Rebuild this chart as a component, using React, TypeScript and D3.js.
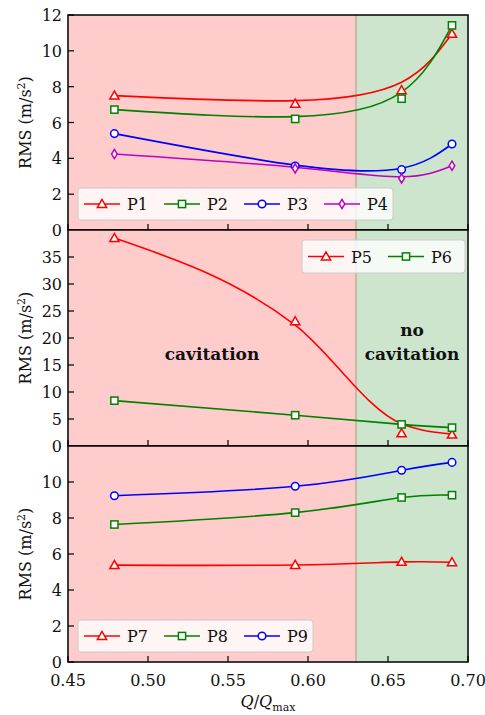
import React from "react";
import * as d3 from "d3";

// ---- data ----
const flowRatio = [0.479, 0.592, 0.6585, 0.69];
const xTicks = [0.45, 0.5, 0.55, 0.6, 0.65, 0.7];
const cavitationLimit = 0.63;

// Panel 1 (markers = measured, curve = smoothed line)
const p1 = [7.5, 7.05, 7.8, 10.95];
const p1Curve = [7.5, 7.22, 8.25, 10.95];
const p2 = [6.72, 6.2, 7.33, 11.42];
const p2Curve = [6.72, 6.33, 7.7, 11.42];
const p3 = [5.38, 3.57, 3.37, 4.8];
const p3Curve = [5.38, 3.62, 3.45, 4.8];
const p4 = [4.24, 3.44, 2.88, 3.59];
const p4Curve = [4.24, 3.5, 2.97, 3.59];
// Panel 2
const p5 = [38.5, 23.1, 2.35, 2.1];
const p5Curve = [38.5, 22.4, 4.1, 2.2];
const p6 = [8.4, 5.7, 4.0, 3.4];
// Panel 3
const p7 = [5.38, 5.39, 5.56, 5.54];
const p8 = [7.64, 8.3, 9.14, 9.27];
const p9 = [9.24, 9.76, 10.65, 11.09];

const yTicks1 = [0, 2, 4, 6, 8, 10, 12];
const yTicks2 = [0, 5, 10, 15, 20, 25, 30, 35];
const yTicks3 = [0, 2, 4, 6, 8, 10];

type Marker = "tri" | "sq" | "circ" | "dia";
interface Series {
  name: string;
  values: number[];
  curve: number[];
  color: string;
  marker: Marker;
  monotone?: boolean;
}

const RED = "#ff0000";
const GREEN = "#008000";
const BLUE = "#0000ff";
const MAG = "#bf00bf";

const panels: {
  top: number;
  bottom: number;
  domain: [number, number];
  ticks: number[];
  series: Series[];
  legend: { x: number; y: number; w: number; h: number };
}[] = [
  {
    top: 15,
    bottom: 230,
    domain: [0, 12],
    ticks: yTicks1,
    series: [
      { name: "P1", values: p1, curve: p1Curve, color: RED, marker: "tri" },
      { name: "P2", values: p2, curve: p2Curve, color: GREEN, marker: "sq" },
      { name: "P3", values: p3, curve: p3Curve, color: BLUE, marker: "circ" },
      { name: "P4", values: p4, curve: p4Curve, color: MAG, marker: "dia" },
    ],
    legend: { x: 78, y: 188, w: 315, h: 32 },
  },
  {
    top: 230,
    bottom: 446,
    domain: [0, 40],
    ticks: yTicks2,
    series: [
      { name: "P5", values: p5, curve: p5Curve, color: RED, marker: "tri", monotone: true },
      { name: "P6", values: p6, curve: p6, color: GREEN, marker: "sq" },
    ],
    legend: { x: 302, y: 240, w: 163, h: 33 },
  },
  {
    top: 446,
    bottom: 662,
    domain: [0, 12],
    ticks: yTicks3,
    series: [
      { name: "P7", values: p7, curve: p7, color: RED, marker: "tri" },
      { name: "P8", values: p8, curve: p8, color: GREEN, marker: "sq" },
      { name: "P9", values: p9, curve: p9, color: BLUE, marker: "circ" },
    ],
    legend: { x: 78, y: 620, w: 235, h: 32 },
  },
];

const LEFT = 68;
const RIGHT = 468;
const FONT = '"DejaVu Serif", "Liberation Serif", serif';

function MarkerShape({ type, x, y, color }: { type: Marker; x: number; y: number; color: string }) {
  const sw = 1.5;
  if (type === "tri") {
    const s = 4.6;
    const pts = `${x},${y - s} ${x - s},${y + s * 0.75} ${x + s},${y + s * 0.75}`;
    return <polygon points={pts} fill="white" stroke={color} strokeWidth={sw} />;
  }
  if (type === "sq") {
    const s = 3.6;
    return <rect x={x - s} y={y - s} width={2 * s} height={2 * s} fill="white" stroke={color} strokeWidth={sw} />;
  }
  if (type === "circ") {
    return <circle cx={x} cy={y} r={3.8} fill="white" stroke={color} strokeWidth={sw} />;
  }
  const w = 2.8;
  const h = 4.6;
  const pts = `${x},${y - h} ${x + w},${y} ${x},${y + h} ${x - w},${y}`;
  return <polygon points={pts} fill="white" stroke={color} strokeWidth={sw} />;
}

const FS = 16;

export default function App() {
  const x = d3.scaleLinear().domain([0.45, 0.7]).range([LEFT, RIGHT]);

  return (
    <svg
      width={485}
      height={715}
      style={{ position: "absolute", left: 0, top: 0, background: "white", fontFamily: FONT }}
    >
      {panels.map((p, pi) => {
        const y = d3.scaleLinear().domain(p.domain).range([p.bottom, p.top]);
        const mk = (mono?: boolean) =>
          d3
            .line<number>()
            .x((_, i) => x(flowRatio[i]))
            .y((d) => y(d))
            .curve(mono ? d3.curveMonotoneX : d3.curveNatural);
        const entryW = 80;
        return (
          <g key={pi}>
            <rect x={LEFT} y={p.top} width={x(cavitationLimit) - LEFT} height={p.bottom - p.top} fill="#ffcccc" />
            <rect
              x={x(cavitationLimit)}
              y={p.top}
              width={RIGHT - x(cavitationLimit)}
              height={p.bottom - p.top}
              fill="#cce5cc"
            />
            <line
              x1={x(cavitationLimit)}
              x2={x(cavitationLimit)}
              y1={p.top}
              y2={p.bottom}
              stroke="#c2ad96"
              strokeWidth={1.5}
            />
            {p.series.map((s) => (
              <path key={s.name + "l"} d={mk(s.monotone)(s.curve) || ""} fill="none" stroke={s.color} strokeWidth={1.6} />
            ))}
            {p.series.map((s) =>
              s.values.map((v, i) => (
                <MarkerShape key={s.name + i} type={s.marker} x={x(flowRatio[i])} y={y(v)} color={s.color} />
              ))
            )}
            {/* legend */}
            <rect
              x={p.legend.x}
              y={p.legend.y}
              width={p.legend.w}
              height={p.legend.h}
              rx={3}
              fill="white"
              fillOpacity={0.8}
              stroke="#cccccc"
              strokeWidth={1}
            />
            {p.series.map((s, i) => {
              const lx = p.legend.x + 6 + i * entryW;
              const ly = p.legend.y + p.legend.h / 2;
              return (
                <g key={s.name + "leg"}>
                  <line x1={lx} x2={lx + 36} y1={ly} y2={ly} stroke={s.color} strokeWidth={1.6} />
                  <MarkerShape type={s.marker} x={lx + 18} y={ly} color={s.color} />
                  <text x={lx + 43} y={ly + 6} fontSize={FS} fill="#111">
                    {s.name}
                  </text>
                </g>
              );
            })}
            {/* y ticks */}
            {p.ticks.map((t) => (
              <g key={"yt" + t}>
                <line x1={LEFT} x2={LEFT + 6} y1={y(t)} y2={y(t)} stroke="black" strokeWidth={1.2} />
                <text x={LEFT - 6} y={y(t) + 6} textAnchor="end" fontSize={FS} fill="#111">
                  {t}
                </text>
              </g>
            ))}
            {/* x ticks (inward) */}
            {xTicks.map((t) => (
              <line key={"xt" + t} x1={x(t)} x2={x(t)} y1={p.bottom} y2={p.bottom - 6} stroke="black" strokeWidth={1.2} />
            ))}
            {/* frame */}
            <rect
              x={LEFT}
              y={p.top}
              width={RIGHT - LEFT}
              height={p.bottom - p.top}
              fill="none"
              stroke="black"
              strokeWidth={1.5}
            />
            {/* y label */}
            <text
              transform={`translate(${25},${(p.top + p.bottom) / 2}) rotate(-90)`}
              textAnchor="middle"
              dy="0.35em"
              fontSize={FS}
              fill="#111"
            >
              RMS (m/s
              <tspan baselineShift="super" fontSize={11}>
                2
              </tspan>
              )
            </text>
          </g>
        );
      })}
      {/* annotations */}
      <text x={212} y={360} textAnchor="middle" fontSize={17} fontWeight="bold" fill="#111">
        cavitation
      </text>
      <text x={412} y={336} textAnchor="middle" fontSize={17} fontWeight="bold" fill="#111">
        no
      </text>
      <text x={412} y={360} textAnchor="middle" fontSize={17} fontWeight="bold" fill="#111">
        cavitation
      </text>
      {/* x tick labels */}
      {xTicks.map((t) => (
        <text key={"xl" + t} x={x(t)} y={686} textAnchor="middle" fontSize={FS} fill="#111">
          {t.toFixed(2)}
        </text>
      ))}
      <text x={268} y={707} textAnchor="middle" fontSize={FS} fill="#111">
        <tspan fontStyle="italic">Q</tspan>/<tspan fontStyle="italic">Q</tspan>
        <tspan fontSize={11} dy={4}>max</tspan>
      </text>
    </svg>
  );
}
